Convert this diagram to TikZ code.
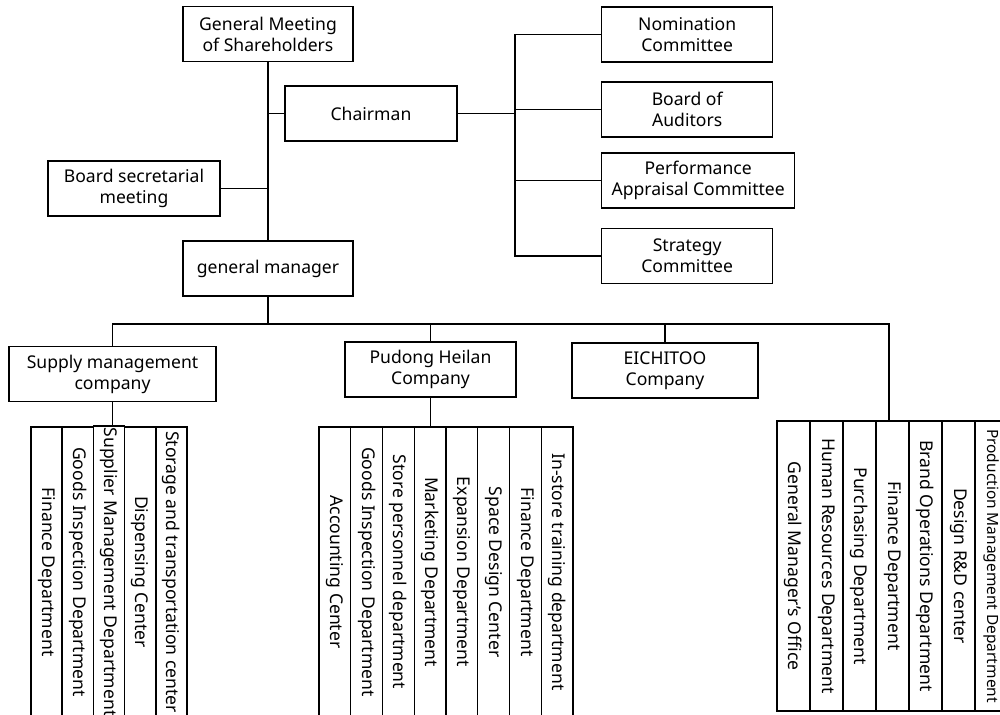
\documentclass[tikz,border=0pt]{standalone}
\usepackage{fontspec}
\setmainfont{Noto Sans}
\usepackage{tikz}
\tikzset{
    org-box/.style = {draw, line width=0.8pt, rectangle, align=center, minimum width=3.4cm, minimum height=1.1cm, inner sep=2pt, font=\fontsize{10}{12}\selectfont},
    dept-col/.style = {draw, line width=0.8pt, rectangle, rotate=-90, minimum width=5.8cm, minimum height=0.63cm, inner sep=1pt, font=\fontsize{10}{12}\selectfont},
    org-line/.style = {line width=0.8pt},
}

\begin{document}
\begin{tikzpicture}[x=0.02cm, y=-0.02cm]
\useasboundingbox (0,0) rectangle (1000,714);

% board level
\node[org-box] (gms) at (268,34) {General Meeting\\of Shareholders};
\node[org-box, minimum width=3.44cm] (chairman) at (371,113.5) {Chairman};
\node[org-box, minimum width=3.44cm] (secretarial) at (134,188.5) {Board secretarial\\meeting};
\node[org-box] (gm) at (268,268.5) {general manager};

% committees
\node[org-box, anchor=west, minimum width=3.42cm] (nomination) at (601,34.5) {Nomination\\Committee};
\node[org-box, anchor=west, minimum width=3.42cm] (auditors) at (601,109.5) {Board of\\Auditors};
\node[org-box, anchor=west, minimum width=3.86cm] (performance) at (601,180.5) {Performance\\Appraisal Committee};
\node[org-box, anchor=west, minimum width=3.42cm] (strategy) at (601,256) {Strategy\\Committee};
\coordinate (spine) at (515,0);

\draw[org-line] (gms.south) -- (gm.north);
\draw[org-line] (chairman.west) -- (chairman.west -| gms.south);
\draw[org-line] (secretarial.east) -- (secretarial.east -| gms.south);
\draw[org-line] (chairman.east) -- (chairman.east -| spine);
\draw[org-line] (nomination.west) -- (nomination.west -| spine) -- (strategy.west -| spine) -- (strategy.west);
\draw[org-line] (auditors.west) -- (auditors.west -| spine);
\draw[org-line] (performance.west) -- (performance.west -| spine);

% companies
\node[org-box, minimum width=4.14cm] (supply) at (112.5,374) {Supply management\\company};
\node[org-box, minimum width=3.42cm] (pudong) at (430.5,369.5) {Pudong Heilan\\Company};
\node[org-box, minimum width=3.72cm] (eichitoo) at (665,370.5) {EICHITOO\\Company};
\coordinate (bus-right) at (889,324);

% supply management company departments
\node[dept-col] (s1) at (46.6,572) {Finance Department};
\node[dept-col] (s2) at (77.8,572) {Goods Inspection Department};
\node[dept-col] (s3) at (109,572) {Supplier Management Department};
\node[dept-col] (s4) at (140.2,572) {Dispensing Center};
\node[dept-col] (s5) at (171.4,572) {Storage and transportation center};

% pudong heilan departments
\node[dept-col, minimum height=0.635cm] (p1) at (334.9,572) {Accounting Center};
\node[dept-col, minimum height=0.635cm] (p2) at (366.6,572) {Goods Inspection Department};
\node[dept-col, minimum height=0.635cm] (p3) at (398.4,572) {Store personnel department};
\node[dept-col, minimum height=0.635cm] (p4) at (430.1,572) {Marketing Department};
\node[dept-col, minimum height=0.635cm] (p5) at (461.9,572) {Expansion Department};
\node[dept-col, minimum height=0.635cm] (p6) at (493.6,572) {Space Design Center};
\node[dept-col, minimum height=0.635cm] (p7) at (525.4,572) {Finance Department};
\node[dept-col, minimum height=0.635cm] (p8) at (557.1,572) {In-store training department};

% head office departments
\node[dept-col, minimum height=0.66cm] (r1) at (793.5,566) {General Manager's Office};
\node[dept-col, minimum height=0.66cm] (r2) at (826.5,566) {Human Resources Department};
\node[dept-col, minimum height=0.66cm] (r3) at (859.5,566) {Purchasing Department};
\node[dept-col, minimum height=0.66cm] (r4) at (892.5,566) {Finance Department};
\node[dept-col, minimum height=0.66cm] (r5) at (925.5,566) {Brand Operations Department};
\node[dept-col, minimum height=0.66cm] (r6) at (958.5,566) {Design R\&D center};
\node[dept-col, minimum height=0.66cm, font=\fontsize{8.8}{10}\selectfont] (r7) at (991.5,566) {Production Management Department};

\draw[org-line] (gm.south) -- (gm.south |- bus-right);
\draw[org-line] (supply.north) |- (bus-right) -- (bus-right |- r4.west);
\draw[org-line] (pudong.north) -- (pudong.north |- bus-right);
\draw[org-line] (eichitoo.north) -- (eichitoo.north |- bus-right);
\draw[org-line] (supply.south) -- (supply.south |- s3.west);
\draw[org-line] (pudong.south) -- (pudong.south |- p4.west);
\end{tikzpicture}
\end{document}
